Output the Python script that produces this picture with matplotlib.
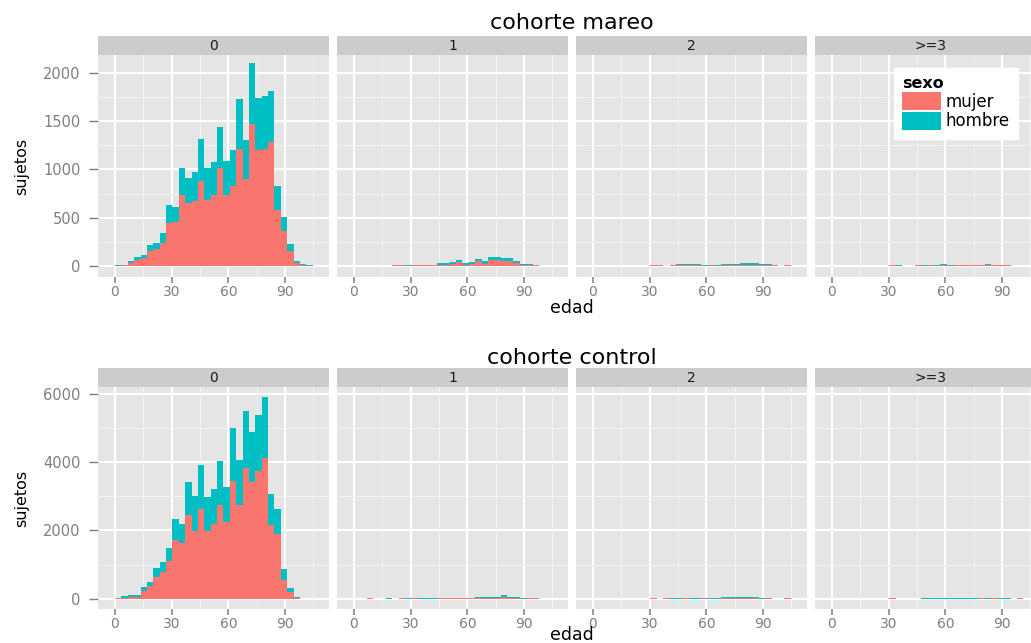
import numpy as np
import matplotlib
matplotlib.use('Agg')
import matplotlib.pyplot as plt
from matplotlib.patches import Patch
from matplotlib.ticker import MultipleLocator

# --- datos (31 intervalos de edad, ancho ~3.38 anios) ---
ancho_bin = 3.376
n_bins = 31

# cohorte mareo
mujer_m0 = [2, 8, 28, 62, 83, 156, 177, 240, 448, 458, 740, 649, 670, 875, 688, 740,
            1010, 740, 833, 1208, 896, 1469, 1198, 1212, 1281, 583, 365, 156, 28, 10, 0]
hombre_m0 = [6, 4, 24, 32, 32, 63, 63, 97, 180, 157, 270, 257, 299, 438, 322, 333,
             428, 343, 365, 521, 406, 635, 542, 548, 532, 250, 145, 73, 24, 11, 8]
mujer_m1 = [0, 0, 0, 0, 0, 0, 10, 10, 0, 8, 8, 8, 6, 14, 14, 24, 45, 14, 24, 56, 24,
            66, 66, 56, 56, 35, 14, 8, 10, 0, 0]
hombre_m1 = [0, 0, 0, 0, 0, 0, 0, 0, 10, 8, 8, 8, 8, 21, 21, 21, 21, 21, 21, 20, 32,
             31, 31, 31, 31, 21, 10, 10, 0, 0, 0]
mujer_m2 = [0, 0, 0, 0, 0, 0, 0, 0, 0, 10, 10, 0, 10, 8, 8, 8, 8, 0, 10, 0, 10,
            10, 10, 10, 10, 10, 8, 8, 10, 0, 10]
hombre_m2 = [0, 0, 0, 0, 0, 0, 0, 0, 0, 0, 0, 0, 0, 12, 12, 10, 10, 10, 0, 10, 14,
             14, 14, 25, 18, 18, 10, 12, 0, 0, 0]
mujer_m3 = [0, 0, 0, 0, 0, 0, 0, 0, 0, 10, 0, 0, 0, 10, 0, 10, 0, 10, 0, 8, 8,
            8, 8, 6, 10, 8, 8, 8, 0, 0, 0]
hombre_m3 = [0, 0, 0, 0, 0, 0, 0, 0, 0, 0, 10, 0, 0, 0, 10, 0, 10, 10, 10, 8, 8,
             8, 8, 10, 16, 8, 8, 8, 0, 0, 0]

# cohorte control
mujer_c0 = [15, 40, 68, 68, 244, 390, 654, 800, 1093, 1708, 1620, 2440, 1972, 2616, 1972, 2176,
            2733, 2235, 3436, 2733, 3816, 3406, 3728, 4109, 2147, 1884, 566, 215, 39, 5, 3]
hombre_c0 = [15, 48, 49, 49, 117, 117, 263, 264, 381, 615, 556, 966, 1024, 1288, 995, 1025,
             1288, 1025, 1551, 1317, 1669, 1464, 1640, 1786, 908, 732, 293, 117, 29, 5, 7]
mujer_c1 = [0, 0, 30, 0, 0, 0, 0, 30, 0, 30, 5, 5, 5, 15, 15, 15, 15, 15, 15, 25, 25,
            25, 25, 68, 30, 30, 5, 30, 30, 0, 0]
hombre_c1 = [0, 0, 0, 0, 0, 30, 0, 0, 30, 0, 25, 25, 25, 25, 25, 25, 25, 25, 25, 45, 45,
             45, 45, 59, 40, 40, 25, 0, 0, 0, 0]
mujer_c2 = [0, 0, 0, 0, 0, 0, 0, 0, 0, 30, 0, 30, 0, 0, 30, 0, 0, 30, 0, 0, 25,
            25, 25, 25, 25, 25, 0, 30, 0, 0, 30]
hombre_c2 = [0, 0, 0, 0, 0, 0, 0, 0, 0, 0, 0, 0, 30, 30, 0, 30, 30, 0, 30, 30, 20,
             20, 20, 20, 20, 20, 30, 0, 0, 0, 0]
mujer_c3 = [0, 0, 0, 0, 0, 0, 0, 0, 0, 30, 0, 0, 0, 0, 0, 0, 0, 0, 0, 0, 0,
            0, 0, 15, 0, 15, 0, 0, 0, 30, 0]
hombre_c3 = [0, 0, 0, 0, 0, 0, 0, 0, 0, 0, 0, 0, 0, 0, 30, 30, 30, 30, 30, 30, 30,
             30, 30, 20, 30, 20, 30, 30, 0, 0, 0]

grupos = ['0', '1', '2', '>=3']
cohortes = ['cohorte mareo', 'cohorte control']
datos = [
    [(mujer_m0, hombre_m0), (mujer_m1, hombre_m1), (mujer_m2, hombre_m2), (mujer_m3, hombre_m3)],
    [(mujer_c0, hombre_c0), (mujer_c1, hombre_c1), (mujer_c2, hombre_c2), (mujer_c3, hombre_c3)],
]
xticks = [0, 30, 60, 90]
yticks = [[0, 500, 1000, 1500, 2000], [0, 2000, 4000, 6000]]
ylims = [(-113, 2183), (-295, 6190)]

color_mujer = '#F8766D'
color_hombre = '#00BFC4'

# --- figura ---
W, H = 1031, 643
fig = plt.figure(figsize=(W / 100, H / 100), dpi=100)


def caja(left, top, width, height):
    return fig.add_axes([left / W, 1 - (top + height) / H, width / W, height / H])


izquierdas = [98, 337, 576, 815]
ancho_panel = 231
filas = [dict(strip=36, panel=55, titulo=29, edad=313, sujetos=166),
         dict(strip=368, panel=387, titulo=364, edad=639.5, sujetos=498)]
alto_panel = 222
alto_strip = 19
bordes = np.arange(n_bins) * ancho_bin

for i, fila in enumerate(filas):
    for j, x0 in enumerate(izquierdas):
        ax = caja(x0, fila['panel'], ancho_panel, alto_panel)
        ax.set_facecolor('#E5E5E5')
        for s in ax.spines.values():
            s.set_visible(False)
        ax.set_axisbelow(True)

        mujer, hombre = datos[i][j]
        ax.bar(bordes, mujer, width=ancho_bin, align='edge', color=color_mujer,
               linewidth=0, antialiased=False)
        ax.bar(bordes, hombre, width=ancho_bin, align='edge', bottom=mujer,
               color=color_hombre, linewidth=0, antialiased=False)

        ax.set_xlim(-9.0, 113.3)
        ax.set_ylim(*ylims[i])
        ax.set_xticks(xticks)
        ax.xaxis.set_minor_locator(MultipleLocator(30, offset=15))
        ax.set_yticks(yticks[i])
        paso = yticks[i][1]
        ax.yaxis.set_minor_locator(MultipleLocator(paso, offset=paso / 2))
        ax.grid(which='major', color='white', linewidth=1.5)
        ax.grid(which='minor', color='#F2F2F2', linewidth=0.75)

        ax.tick_params(axis='x', which='major', direction='out', length=4, width=1.1,
                       color='#7F7F7F', labelcolor='#7F7F7F', labelsize=10, pad=1.5)
        ax.tick_params(axis='y', which='major', direction='out', length=6.5, width=1,
                       color='#7F7F7F', labelcolor='#7F7F7F', labelsize=10.5, pad=6)
        ax.tick_params(which='minor', length=0)
        if j > 0:
            ax.tick_params(axis='y', which='major', length=0, labelleft=False)

        # tira del facet
        st = caja(x0, fila['strip'], ancho_panel, alto_strip)
        st.set_facecolor('#CCCCCC')
        st.set_xticks([])
        st.set_yticks([])
        for s in st.spines.values():
            s.set_visible(False)
        st.text(0.5, 0.5, grupos[j], ha='center', va='center', fontsize=10,
                color='#1A1A1A', transform=st.transAxes)

    fig.text(572 / W, 1 - fila['titulo'] / H, cohortes[i], ha='center', va='baseline',
             fontsize=16, color='black')
    fig.text(572 / W, 1 - fila['edad'] / H, 'edad', ha='center', va='baseline',
             fontsize=12.5, color='black')
    fig.text(22 / W, 1 - fila['sujetos'] / H, 'sujetos', ha='center', va='center',
             rotation=90, fontsize=11.5, color='black')

# leyenda dentro del ultimo panel de arriba
manejadores = [Patch(facecolor=color_mujer, label='mujer'),
               Patch(facecolor=color_hombre, label='hombre')]
fig.legend(handles=manejadores, title='sexo', loc='upper left',
           bbox_to_anchor=(894 / W, 1 - 68 / H), bbox_transform=fig.transFigure,
           frameon=True, fancybox=False, edgecolor='white', facecolor='white',
           framealpha=1, fontsize=12, title_fontproperties={'weight': 'bold', 'size': 11.5},
           handlelength=2.3, handleheight=1.3, labelspacing=0.05, handletextpad=0.3,
           borderpad=0.5, borderaxespad=0, alignment='left')

fig.savefig('out.png', dpi=100)
